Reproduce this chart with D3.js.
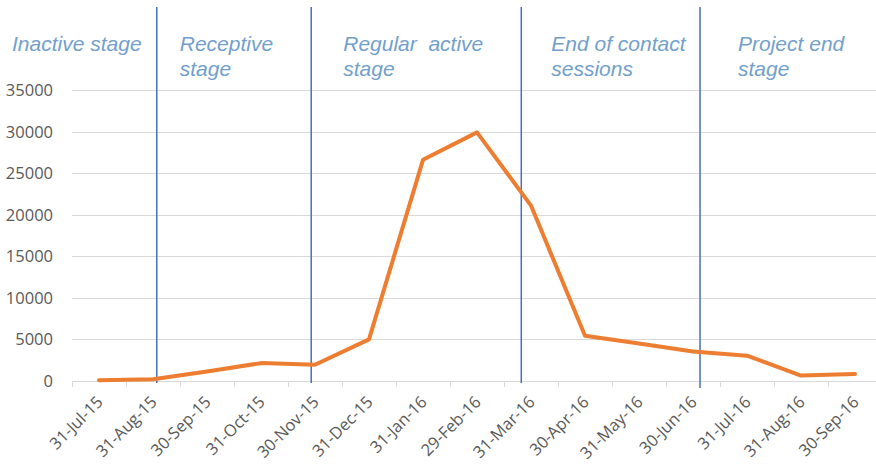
<!DOCTYPE html>
<html>
<head>
<meta charset="utf-8">
<script src="https://cdn.jsdelivr.net/npm/d3@7"></script>
<style>
  body { margin: 0; background: #fff; }
  svg { display: block; }
</style>
</head>
<body>
<svg id="chart" width="876" height="465"></svg>
<script>
// months on the category axis
const months = ["31-Jul-15", "31-Aug-15", "30-Sep-15", "31-Oct-15", "30-Nov-15", "31-Dec-15",
  "31-Jan-16", "29-Feb-16", "31-Mar-16", "30-Apr-16", "31-May-16", "30-Jun-16",
  "31-Jul-16", "31-Aug-16", "30-Sep-16"];
// values
const values = [80, 200, 1150, 2150, 1950, 5000, 26600, 29900, 21100, 5450, 4500, 3550, 3050, 650, 850];
const yTicks = [0, 5000, 10000, 15000, 20000, 25000, 30000, 35000];

// stage boundaries, in category units (0 = first month)
const stageBounds = [1.07, 3.93, 7.82, 11.13];
const stageNames = [
  ["Inactive stage"],
  ["Receptive", "stage"],
  ["Regular  active", "stage"],
  ["End of contact", "sessions"],
  ["Project end", "stage"]
];

const svg = d3.select("#chart");
const mLeft = 72, mRight = 882, mTop = 90, mBottom = 381;

const x = d3.scaleLinear()
  .domain([-0.5, months.length - 0.5])
  .range([mLeft, mRight]);

const y = d3.scaleLinear()
  .domain([0, 35000])
  .range([mBottom, mTop]);

// gridlines
svg.append("g")
  .selectAll("line")
  .data(yTicks)
  .enter()
  .append("line")
  .attr("x1", mLeft)
  .attr("x2", 876)
  .attr("y1", d => Math.round(y(d)) + 0.5)
  .attr("y2", d => Math.round(y(d)) + 0.5)
  .style("stroke", "#d9d9d9")
  .style("stroke-width", 1);

// y labels
svg.append("g")
  .selectAll("text")
  .data(yTicks)
  .enter()
  .append("text")
  .attr("x", 53)
  .attr("y", d => y(d) + 6)
  .attr("text-anchor", "end")
  .style("font-family", "'Open Sans', sans-serif")
  .style("font-size", "16.5px")
  .style("fill", "#595959")
  .text(d => d);

// tick marks between categories
svg.append("g")
  .selectAll("line")
  .data(d3.range(months.length + 1))
  .enter()
  .append("line")
  .attr("x1", d => Math.round(x(d - 0.5)) + 0.5)
  .attr("x2", d => Math.round(x(d - 0.5)) + 0.5)
  .attr("y1", mBottom)
  .attr("y2", mBottom + 6)
  .style("stroke", "#d9d9d9");

// x labels, rotated
svg.append("g")
  .selectAll("text")
  .data(months)
  .enter()
  .append("text")
  .attr("transform", (d, i) => `translate(${x(i) + 5},${mBottom + 22}) rotate(-45)`)
  .attr("text-anchor", "end")
  .style("font-family", "'Open Sans', sans-serif")
  .style("font-size", "16.5px")
  .style("fill", "#595959")
  .text(d => d);

// stage dividers
svg.append("g")
  .selectAll("line")
  .data(stageBounds)
  .enter()
  .append("line")
  .attr("x1", d => x(d))
  .attr("x2", d => x(d))
  .attr("y1", 7)
  .attr("y2", (d, i) => i == 3 ? 388 : 383)
  .style("stroke", "#4a6fb5")
  .style("stroke-width", 1.5);

// stage labels: left edge of each label
const labelX = [12, x(stageBounds[0]) + 23, x(stageBounds[1]) + 32, x(stageBounds[2]) + 30, x(stageBounds[3]) + 38];
stageNames.forEach((lines, i) => {
  const t = svg.append("text")
    .attr("y", 51)
    .style("font-family", "'Liberation Sans', Arial, sans-serif")
    .style("font-style", "italic")
    .style("font-size", "21px")
    .style("fill", "#72a0cb")
    .style("white-space", "pre");
  lines.forEach((s, j) => {
    t.append("tspan")
      .attr("x", labelX[i])
      .attr("dy", j == 0 ? 0 : 25)
      .text(s);
  });
});

// the line
const line = d3.line()
  .x((d, i) => x(i))
  .y(d => y(d));

svg.append("path")
  .datum(values)
  .attr("d", line)
  .style("fill", "none")
  .style("stroke", "#ed7d31")
  .style("stroke-width", 4)
  .style("stroke-linejoin", "round")
  .style("stroke-linecap", "round");
</script>
</body>
</html>
